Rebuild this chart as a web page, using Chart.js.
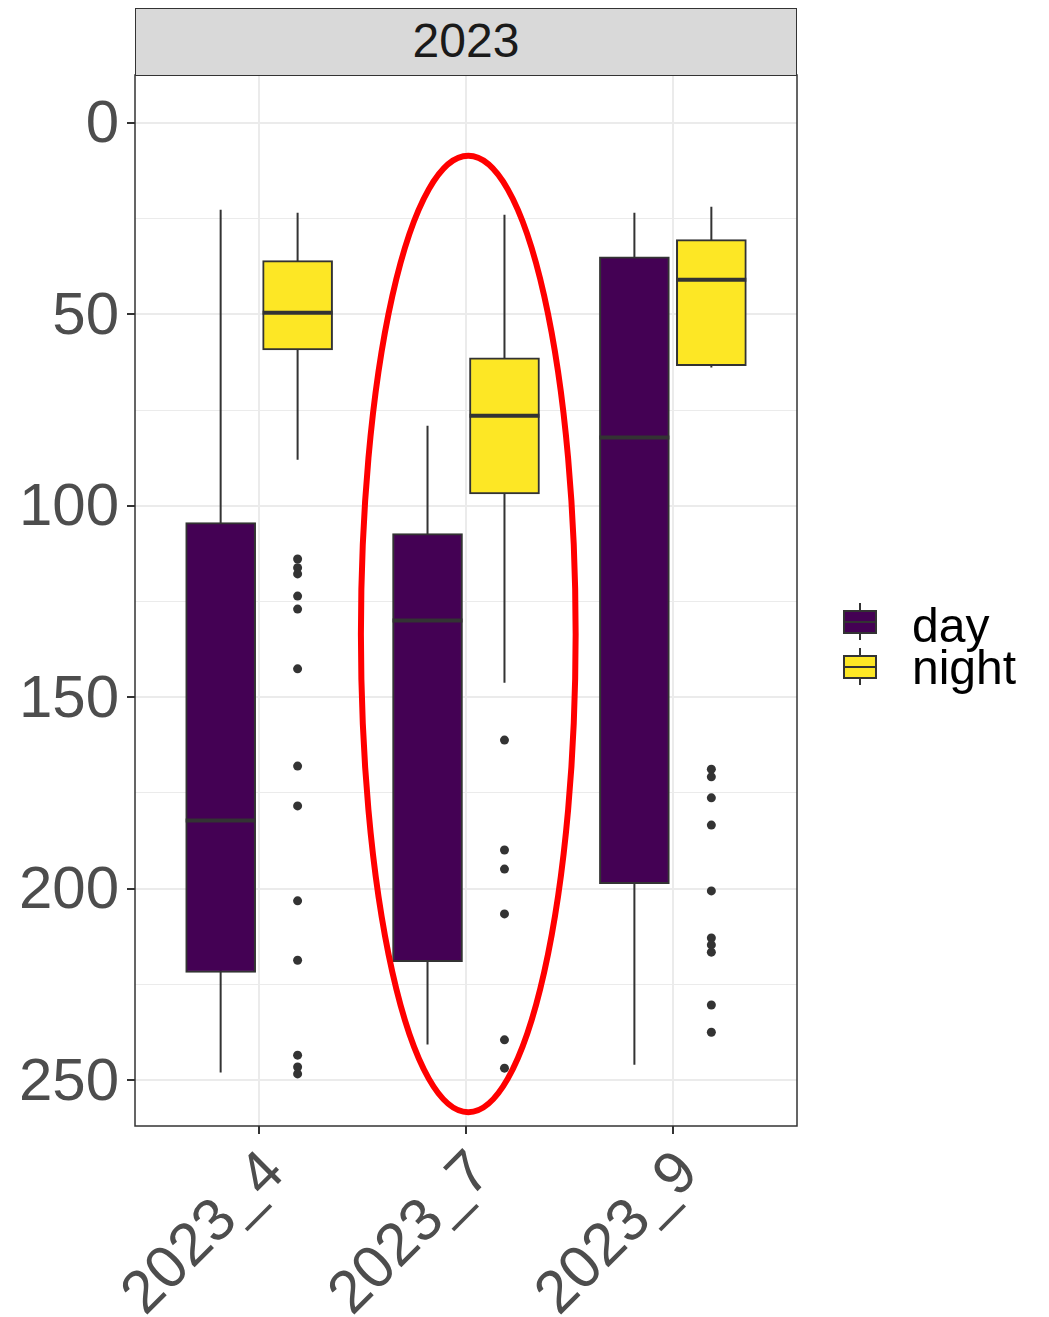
<!DOCTYPE html>
<html>
<head>
<meta charset="utf-8">
<script src="https://cdn.jsdelivr.net/npm/chart.js@4.4.1/dist/chart.umd.min.js"></script>
<style>
    body { margin: 0; background: #fff; }
    #wrap { position: relative; width: 1049px; height: 1317px; font-family: 'Liberation Sans', Arial, sans-serif; }
    #boxChart { position: absolute; left: 0; top: 0; }
    .strip {
        position: absolute; left: 135px; top: 8px; width: 662px; height: 68px;
        box-sizing: border-box; background: #d9d9d9; border: 1.5px solid #333;
        text-align: center; font-size: 48px; line-height: 64px; color: #1a1a1a;
    }
    .key { position: absolute; width: 34px; height: 24px; box-sizing: border-box; border: 2px solid #333; }
    .key .med { position: absolute; left: 0; right: 0; top: 9px; height: 2px; background: #333; }
    .whisk { position: absolute; width: 2px; height: 7px; background: #333; }
    .lab { position: absolute; font-size: 48px; line-height: 48px; color: #000; }
</style>
</head>
<body>
<div id="wrap">
    <canvas id="boxChart" width="1049" height="1317"></canvas>
    <div class="strip">2023</div>
    <div class="whisk" style="left:859px; top:603px;"></div>
    <div class="key" style="left:843px; top:610px; background:#440154;"><div class="med"></div></div>
    <div class="whisk" style="left:859px; top:633px;"></div>
    <div class="lab" style="left:912px; top:602px;">day</div>
    <div class="whisk" style="left:859px; top:648px;"></div>
    <div class="key" style="left:843px; top:655px; background:#fde725;"><div class="med"></div></div>
    <div class="whisk" style="left:859px; top:678px;"></div>
    <div class="lab" style="left:912px; top:644px;">night</div>
</div>
<script>
// categories and y ticks
const categories = ['2023_4', '2023_7', '2023_9'];
const yTicks = [0, 50, 100, 150, 200, 250];

// day boxes (whisker low, Q1, median, Q3, whisker high)
const dayMin = [22.7, 79.1, 23.5];
const dayQ1 = [104.4, 107.3, 35.0];
const dayMedian = [182.2, 130.0, 82.2];
const dayQ3 = [221.9, 219.1, 198.7];
const dayMax = [248.0, 240.7, 246.0];

// night boxes
const nightMin = [23.5, 24.0, 21.9];
const nightQ1 = [36.0, 61.4, 30.5];
const nightMedian = [49.6, 76.5, 41.0];
const nightQ3 = [59.3, 96.9, 63.4];
const nightMax = [88.0, 146.2, 63.9];

// night outliers, per category
const nightOutliers = [
    [113.9, 116.2, 117.8, 123.6, 127.0, 142.6, 168.0, 178.4, 203.2, 218.7, 243.5, 246.6, 248.4],
    [161.2, 189.9, 194.9, 206.6, 239.5, 246.9],
    [168.8, 170.8, 176.3, 183.4, 200.6, 212.9, 214.7, 216.6, 230.4, 237.5]
];

// red highlight around 2023_7
const highlight = { category: '2023_7', xShift: 0.011, yCenter: 133.5, xHalf: 0.519, yHalf: 124.9 };

const DODGE = 0.186;     // group offset in category units
const HALF_BOX = 0.169;  // half box width in category units
const INK = '#333333';

const pos = (i, side) => i + 1 + side * DODGE;

function boxes(q1, q3, side, color) {
    return {
        type: 'bar',
        data: categories.map((c, i) => ({ x: pos(i, side), y: [q1[i], q3[i]] })),
        backgroundColor: color,
        borderColor: INK,
        borderWidth: 2,
        borderSkipped: false,
        barThickness: 70,
        grouped: false,
        order: 3
    };
}

function whiskers(lo, hi, side) {
    const pts = [];
    categories.forEach((c, i) => {
        pts.push({ x: pos(i, side), y: lo[i] }, { x: pos(i, side), y: hi[i] }, { x: pos(i, side), y: null });
    });
    return { type: 'line', data: pts, borderColor: INK, borderWidth: 2, pointRadius: 0, spanGaps: false, order: 4 };
}

function medians(med, side) {
    const pts = [];
    categories.forEach((c, i) => {
        pts.push({ x: pos(i, side) - HALF_BOX, y: med[i] }, { x: pos(i, side) + HALF_BOX, y: med[i] }, { x: pos(i, side), y: null });
    });
    return { type: 'line', data: pts, borderColor: INK, borderWidth: 4, pointRadius: 0, spanGaps: false, order: 2 };
}

const outlierPoints = [];
nightOutliers.forEach((vals, i) => vals.forEach(v => outlierPoints.push({ x: pos(i, 1), y: v })));

// panel border + highlight ellipse
const panelPlugin = {
    id: 'panel',
    afterDatasetsDraw(chart) {
        const { ctx, chartArea, scales } = chart;
        const x = scales.x, y = scales.y;
        const cx = x.getPixelForValue(categories.indexOf(highlight.category) + 1 + highlight.xShift);
        const cy = y.getPixelForValue(highlight.yCenter);
        const rx = Math.abs(x.getPixelForValue(1 + highlight.xHalf) - x.getPixelForValue(1));
        const ry = Math.abs(y.getPixelForValue(highlight.yHalf) - y.getPixelForValue(0));
        ctx.save();
        ctx.strokeStyle = '#ff0000';
        ctx.lineWidth = 6;
        ctx.beginPath();
        ctx.ellipse(cx, cy, rx, ry, 0, 0, Math.PI * 2);
        ctx.stroke();
        ctx.strokeStyle = INK;
        ctx.lineWidth = 1.5;
        ctx.strokeRect(chartArea.left, chartArea.top, chartArea.right - chartArea.left, chartArea.bottom - chartArea.top);
        ctx.restore();
    }
};

Chart.defaults.font.family = "'Liberation Sans', Arial, sans-serif";

new Chart(document.getElementById('boxChart'), {
    type: 'bar',
    data: {
        datasets: [
            whiskers(dayMin, dayMax, -1),
            whiskers(nightMin, nightMax, 1),
            boxes(dayQ1, dayQ3, -1, '#440154'),
            boxes(nightQ1, nightQ3, 1, '#fde725'),
            medians(dayMedian, -1),
            medians(nightMedian, 1),
            {
                type: 'scatter',
                data: outlierPoints,
                backgroundColor: INK,
                borderWidth: 0,
                pointRadius: 4.5,
                order: 1
            }
        ]
    },
    options: {
        responsive: false,
        animation: false,
        devicePixelRatio: 1,
        layout: { padding: { left: 0, top: 75, right: 252, bottom: 0 } },
        plugins: { legend: { display: false }, tooltip: { enabled: false } },
        scales: {
            x: {
                type: 'linear',
                min: 0.4,
                max: 3.6,
                offset: false,
                afterBuildTicks: (scale) => { scale.ticks = categories.map((c, i) => ({ value: i + 1 })); },
                afterFit: (scale) => { scale.height = 191; },
                ticks: {
                    autoSkip: false,
                    minRotation: 45,
                    maxRotation: 45,
                    padding: 4,
                    labelOffset: 16,
                    color: '#4d4d4d',
                    font: { size: 60 },
                    callback: (v) => categories[v - 1]
                },
                grid: { offset: false, color: '#ebebeb', lineWidth: 2, tickColor: INK, tickWidth: 2, tickLength: 8 },
                border: { display: false }
            },
            y: {
                type: 'linear',
                reverse: true,
                min: -12.5,
                max: 262,
                afterBuildTicks: (scale) => {
                    const t = [];
                    for (let v = 0; v <= 250; v += 25) t.push({ value: v });
                    scale.ticks = t;
                },
                afterFit: (scale) => { scale.width = 135; },
                ticks: {
                    padding: 8,
                    labelOffset: 3,
                    color: '#4d4d4d',
                    font: { size: 60 },
                    callback: (v) => yTicks.includes(v) ? String(v) : ''
                },
                grid: {
                    color: '#ebebeb',
                    lineWidth: (c) => yTicks.includes(c.tick.value) ? 2 : 1,
                    tickColor: (c) => yTicks.includes(c.tick.value) ? INK : 'rgba(0,0,0,0)',
                    tickWidth: 2,
                    tickLength: 8
                },
                border: { display: false }
            }
        }
    },
    plugins: [panelPlugin]
});
</script>
</body>
</html>
